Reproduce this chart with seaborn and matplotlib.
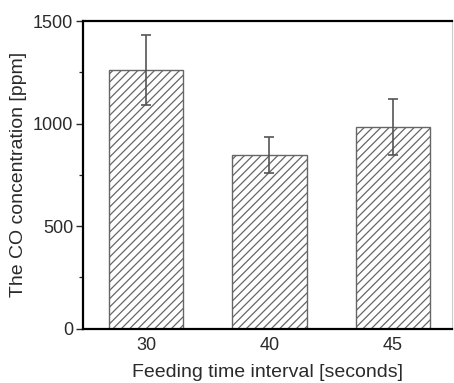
import matplotlib
matplotlib.use("Agg")
import matplotlib.pyplot as plt
from matplotlib.ticker import MultipleLocator
import seaborn as sns
import pandas as pd

# Feeding interval groups and measured CO concentration (mean ± spread)
intervals = ["30", "40", "45"]
co_ppm = [1260, 848, 983]
co_err = [170, 88, 137]

sns.set_theme(style="white")
plt.rcParams["font.family"] = ["Liberation Sans", "DejaVu Sans"]
plt.rcParams["hatch.color"] = "#7a7a7a"
plt.rcParams["hatch.linewidth"] = 0.9

df = pd.DataFrame({"interval": intervals, "co": co_ppm})

fig = plt.figure(figsize=(4.54, 3.83), dpi=100)
ax = fig.add_axes([0.183, 0.142, 0.813, 0.803])

sns.barplot(data=df, x="interval", y="co", order=intervals, width=0.6,
            color="white", edgecolor="#666666", linewidth=1.0,
            hatch="////", errorbar=None, ax=ax)

ax.errorbar(range(len(intervals)), co_ppm, yerr=co_err, fmt="none",
            ecolor="#555555", elinewidth=1.2, capsize=3.5, capthick=1.2,
            zorder=5)

ax.set_xlim(-0.51, 2.48)
ax.set_ylim(0, 1500)
ax.yaxis.set_major_locator(MultipleLocator(500))
ax.yaxis.set_minor_locator(MultipleLocator(250))

ax.set_xlabel("Feeding time interval [seconds]", fontsize=14, color="#2a2a2a",
              labelpad=7)
ax.set_ylabel("The CO concentration [ppm]", fontsize=14, color="#2a2a2a",
              labelpad=4)

ax.tick_params(axis="y", which="major", direction="out", length=5, width=1.0,
               labelsize=13, colors="#2a2a2a", left=True, pad=2)
ax.tick_params(axis="y", which="minor", direction="out", length=3, width=0.9,
               left=True)
ax.tick_params(axis="x", which="both", length=0, labelsize=13,
               colors="#2a2a2a", pad=6)

for side in ["left", "top", "bottom"]:
    ax.spines[side].set_color("black")
    ax.spines[side].set_linewidth(1.6)
ax.spines["right"].set_color("#cccccc")
ax.spines["right"].set_linewidth(0.8)

fig.savefig("out.png", dpi=100)
